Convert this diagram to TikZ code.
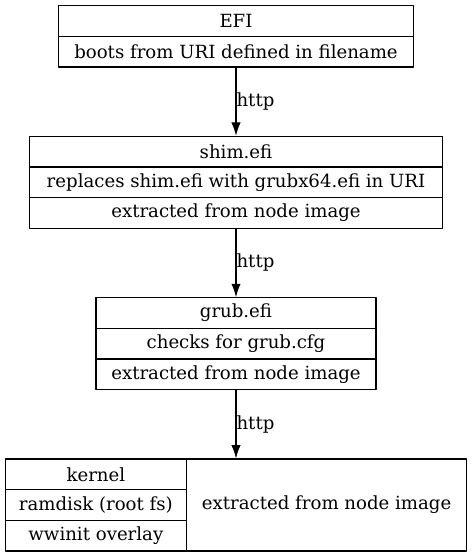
\documentclass[tikz,border=0pt]{standalone}
\usepackage{fontspec}
\setmainfont{DejaVu Serif}
\usetikzlibrary{arrows.meta}
\tikzset{field/.style={draw,rectangle,inner sep=0pt,minimum height=23bp,line width=0.8bp}}
\begin{document}
\begin{tikzpicture}[>={Latex[length=10bp,width=7bp]},line join=bevel,font=\fontsize{13.6bp}{16bp}\selectfont]
\useasboundingbox (0bp,0bp) rectangle (354bp,417.75bp);
%%
\node (efi_name) at (177.0bp,402.0bp) [field,minimum width=266.5bp] {EFI};
  \node (efi_boot) at (177.0bp,379.0bp) [field,minimum width=266.5bp] {boots from URI defined in filename};
%
\node (shim_name) at (177.0bp,304.0bp) [field,minimum width=310bp] {shim.efi};
  \node (shim_uri) at (177.0bp,281.0bp) [field,minimum width=310bp] {replaces shim.efi with grubx64.efi in URI};
  \node (shim_img) at (177.0bp,258.0bp) [field,minimum width=310bp] {extracted from node image};
%
\node (grub_name) at (177.0bp,183.0bp) [field,minimum width=210bp] {grub.efi};
  \node (grub_cfg) at (177.0bp,160.0bp) [field,minimum width=210bp] {checks for grub.cfg};
  \node (grub_img) at (177.0bp,137.0bp) [field,minimum width=210bp] {extracted from node image};
%
\node (kernel) at (71.9bp,62.0bp) [field,minimum width=136.25bp] {kernel};
  \node (ramdisk) at (71.9bp,39.0bp) [field,minimum width=136.25bp] {ramdisk (root fs)};
  \node (wwinit) at (71.9bp,16.0bp) [field,minimum width=136.25bp] {wwinit overlay};
  \node (boot_img) at (245.0bp,39.0bp) [field,minimum width=210bp,minimum height=69bp] {extracted from node image};
%
\draw [black,->,line width=0.8bp] (efi_boot) -- node [anchor=west,inner sep=0pt] (http_a) {http} (shim_name);
  \draw [black,->,line width=0.8bp] (shim_img) -- node [anchor=west,inner sep=0pt] (http_b) {http} (grub_name);
  \draw [black,->,line width=0.8bp] (grub_img) -- node [anchor=west,inner sep=0pt] (http_c) {http} (grub_img |- boot_img.north);
%
\end{tikzpicture}
\end{document}
